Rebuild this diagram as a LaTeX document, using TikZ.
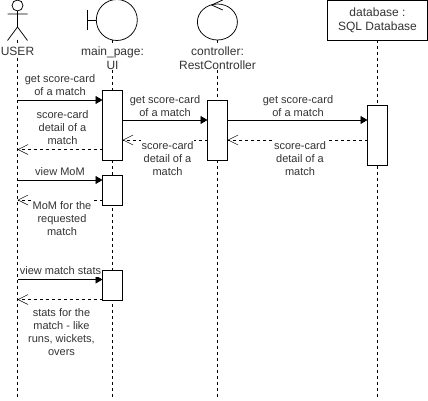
\documentclass[tikz,border=0pt]{standalone}
\usepackage{fontspec}
\setmainfont{Liberation Sans}
\usetikzlibrary{arrows.meta}
\definecolor{labelgray}{HTML}{333333}
\tikzset{
  lifeline/.style={black,dash pattern=on 3pt off 3pt,line width=0.75pt},
  actbox/.style={draw=black,fill=white,line width=0.75pt,minimum width=20pt,inner sep=0pt,outer sep=0pt},
  figure/.style={black,line width=0.75pt},
  msg/.style={black,line width=0.75pt,-{Triangle[length=7pt,width=8pt]}},
  reply/.style={black,line width=0.75pt,dash pattern=on 3pt off 3pt,-{Straight Barb[length=10pt,width=10pt,line width=0.5pt]}},
  lbl/.style={font=\fontsize{11}{13}\selectfont,text=labelgray,align=center,inner sep=0.5pt},
  wlbl/.style={lbl,fill=white,inner ysep=1.5pt},
  head/.style={font=\fontsize{12}{14}\selectfont,text=labelgray,align=center,fill=white,inner sep=0.5pt},
}
\begin{document}
\begin{tikzpicture}[x=1pt,y=-1pt]
\path[use as bounding box] (0,0) rectangle (428,401);
% lifelines
\coordinate (userT) at (17.5,40);
\coordinate (userB) at (17.5,397.5);
\coordinate (uiT) at (112.5,40);
\coordinate (uiB) at (112.5,397.5);
\coordinate (ctrlT) at (217.5,40);
\coordinate (ctrlB) at (217.5,397.5);
\coordinate (dbB) at (377.5,397.5);
\node[draw=black,fill=white,line width=0.75pt,minimum width=100pt,minimum height=40pt,inner sep=0pt,outer sep=0pt,font=\fontsize{12}{14}\selectfont,text=labelgray,align=center] (db) at (377.5,20) {database :\\SQL Database};
\draw[lifeline] (userT) -- (userB);
\draw[lifeline] (uiT) -- (uiB);
\draw[lifeline] (ctrlT) -- (ctrlB);
\draw[lifeline] (db) -- (dbB);
% actor
\draw[figure] (17.5,5.5) circle (5.5);
\draw[figure] (17.5,11) -- (17.5,27) (7.5,14) -- (27.5,14) (7.5,40.5) -- (17.5,27) -- (27.5,40.5);
% boundary
\draw[figure] (116.8,20) circle (20.5);
\draw[figure] (87.5,10) -- (87.5,30) (87.5,20) -- (96.3,20);
% control
\draw[figure] (217.4,22) ellipse (20 and 18);
\draw[figure] (222.7,0) -- (211.7,5) -- (222.7,10);
% titles
\node[head] (userN) at (17.5,51) {USER};
\node[head] (uiN) at (112.5,58) {main\_page:\\UI};
\node[head] (ctrlN) at (217.5,58) {controller:\\RestController};
% activations
\node[actbox,minimum height=70pt] (ui1) at (112.5,125) {};
\node[actbox,minimum height=30pt] (ui2) at (112.5,190) {};
\node[actbox,minimum height=30pt] (ui3) at (112.5,285) {};
\node[actbox,minimum height=60pt] (ctrl1) at (217.5,130) {};
\node[actbox,minimum height=60pt] (db1) at (377.5,135) {};
% free ends on the user lifeline
\coordinate (u1) at (17.5,100);
\coordinate (u2) at (17.5,149.5);
\coordinate (u3) at (17.5,180);
\coordinate (u4) at (17.5,200);
\coordinate (u5) at (17.5,279.5);
\coordinate (u6) at (17.5,299.5);
% messages
\draw[msg] (u1) -- (ui1.west |- u1);
\draw[reply] (ui1.west |- u2) -- (u2);
\draw[msg] (u3) -- (ui2.west |- u3);
\draw[reply] (ui2.west |- u4) -- (u4);
\draw[msg] (u5) -- (ui3.west |- u5);
\draw[reply] (ui3.west |- u6) -- (u6);
\coordinate (m1) at (0,120);
\coordinate (m2) at (0,140);
\draw[msg] (ui1.east |- m1) -- (ctrl1.west |- m1);
\draw[msg] (ctrl1.east |- m1) -- (db1.west |- m1);
\draw[reply] (db1.west |- m2) -- (ctrl1.east |- m2);
\draw[reply] (ctrl1.west |- m2) -- (ui1.east |- m2);
% labels
\node[lbl] (getA) at (60,85.5) {get score-card\\of a match};
\node[lbl] (backA) at (62.5,128) {score-card\\detail of a\\match};
\node[lbl] (getB) at (165,106) {get score-card\\of a match};
\node[wlbl] (backB) at (167.5,159) {score-card\\detail of a\\match};
\node[lbl] (getC) at (298,106) {get score-card\\of a match};
\node[wlbl] (backC) at (300,159) {score-card\\detail of a\\match};
\node[lbl] (viewA) at (60,172) {view MoM};
\node[wlbl] (backD) at (62,219) {MoM for the\\requested\\match};
\node[wlbl] (viewB) at (60.5,271) {view match stats};
\node[lbl] (backE) at (61.5,332.5) {stats for the\\match - like\\runs, wickets,\\overs};
\end{tikzpicture}
\end{document}
